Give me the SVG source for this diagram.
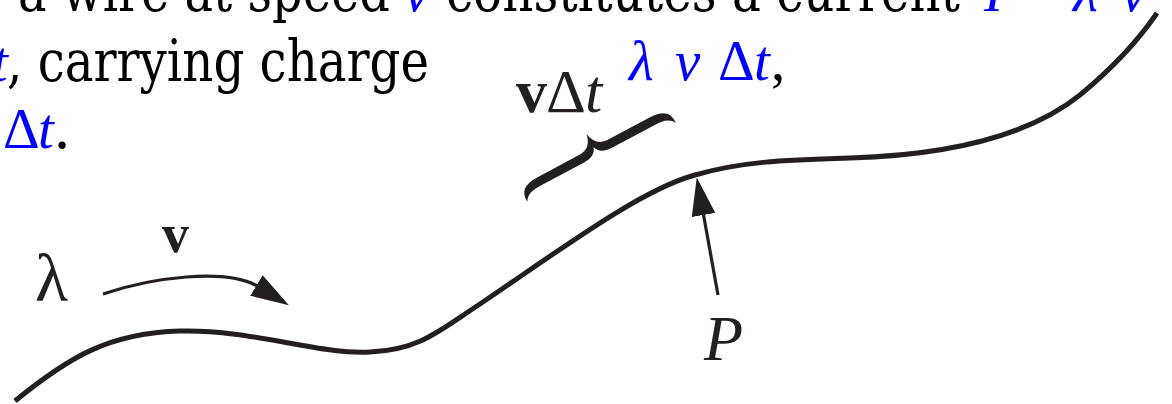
<svg xmlns="http://www.w3.org/2000/svg" width="1172" height="404" viewBox="0 0 1172 404">
<style>
.body{font-family:"DejaVu Serif","Liberation Serif",serif;font-size:57px;fill:#000}
.math{font-family:"Liberation Serif",serif;font-size:57px;fill:#0000ff;font-style:italic}
.up{font-style:normal}
.blk{fill:#000;font-style:normal}
.fig{font-family:"Liberation Serif",serif;fill:#231f20}
.wire{fill:none;stroke:#231f20;stroke-width:5;stroke-linecap:butt}
.arr{fill:none;stroke:#231f20;stroke-width:3.2}
</style>
<defs>
<marker id="head" viewBox="0 0 38 24" refX="3" refY="12" markerWidth="38" markerHeight="24" markerUnits="userSpaceOnUse" orient="auto">
<path d="M0,0 L38,12 L0,24 Z" fill="#231f20"/>
</marker>
</defs>
<g id="caption">
<text class="body" x="18" y="11" textLength="372" lengthAdjust="spacingAndGlyphs">a wire at speed</text>
<text class="math" x="404" y="11">v</text>
<text class="body" x="446" y="11" textLength="514" lengthAdjust="spacingAndGlyphs">constitutes a current</text>
<text class="math" x="984" y="11">I</text>
<text class="math up" x="1024" y="11">=</text>
<text class="math" x="1073" y="11">λ</text>
<text class="math" x="1121" y="11">v</text>
<text class="math" x="-8" y="81">t</text>
<text class="body" x="7" y="81" textLength="422" lengthAdjust="spacingAndGlyphs">, carrying charge</text>
<text class="math" x="629" y="80">λ</text>
<text class="math" x="675" y="80">v</text>
<text class="math up" x="718" y="80">Δ</text>
<text class="math" x="754" y="80">t</text>
<text class="math blk" x="771" y="80">,</text>
<text class="math up" x="3" y="148">Δ</text>
<text class="math" x="38" y="148">t</text>
<text class="body" x="53" y="148">.</text>
</g>
<g id="wire">
<path class="wire" d="M15,401 C70,356 110,333 180,331 C250,329 320,355 370,352 C420,350 440,330 480,304 C560,250 640,190 695,175 C740,162 780,160 850,158 C950,155 1030,135 1080,95 C1115,66 1140,38 1157,13"/>
</g>
<g id="label-lambda">
<text class="fig" x="35" y="301" font-size="68">λ</text>
</g>
<g id="label-v">
<text class="fig" x="162" y="252" font-size="54" font-weight="bold">v</text>
</g>
<g id="label-vdt">
<text class="fig" x="516" y="112" font-size="62" font-weight="bold">v</text>
<text class="fig" x="546" y="112" font-size="62">Δ</text>
<text class="fig" x="585" y="112" font-size="62" font-style="italic">t</text>
</g>
<g id="brace" transform="translate(595,150) rotate(-28)">
<path fill="#231f20" d="M-84,14 C-85,2 -78,-3 -64,-3 L-16,-3 C-7,-3 -2,-8 0,-18 C2,-8 7,-3 16,-3 L64,-3 C78,-3 85,2 84,14 C80,7 74,6 64,6 L16,6 C7,6 2,3 0,-3 C-2,3 -7,6 -16,6 L-64,6 C-74,6 -80,7 -84,14 Z"/>
</g>
<g id="label-P">
<text class="fig" x="704" y="360" font-size="64" font-style="italic">P</text>
</g>
<g id="connectors">
<path class="arr" d="M103,294 C150,278 226,267 259,287" marker-end="url(#head)"/>
<path class="arr" d="M718,295 L703,212" marker-end="url(#head)"/>
</g>
</svg>
